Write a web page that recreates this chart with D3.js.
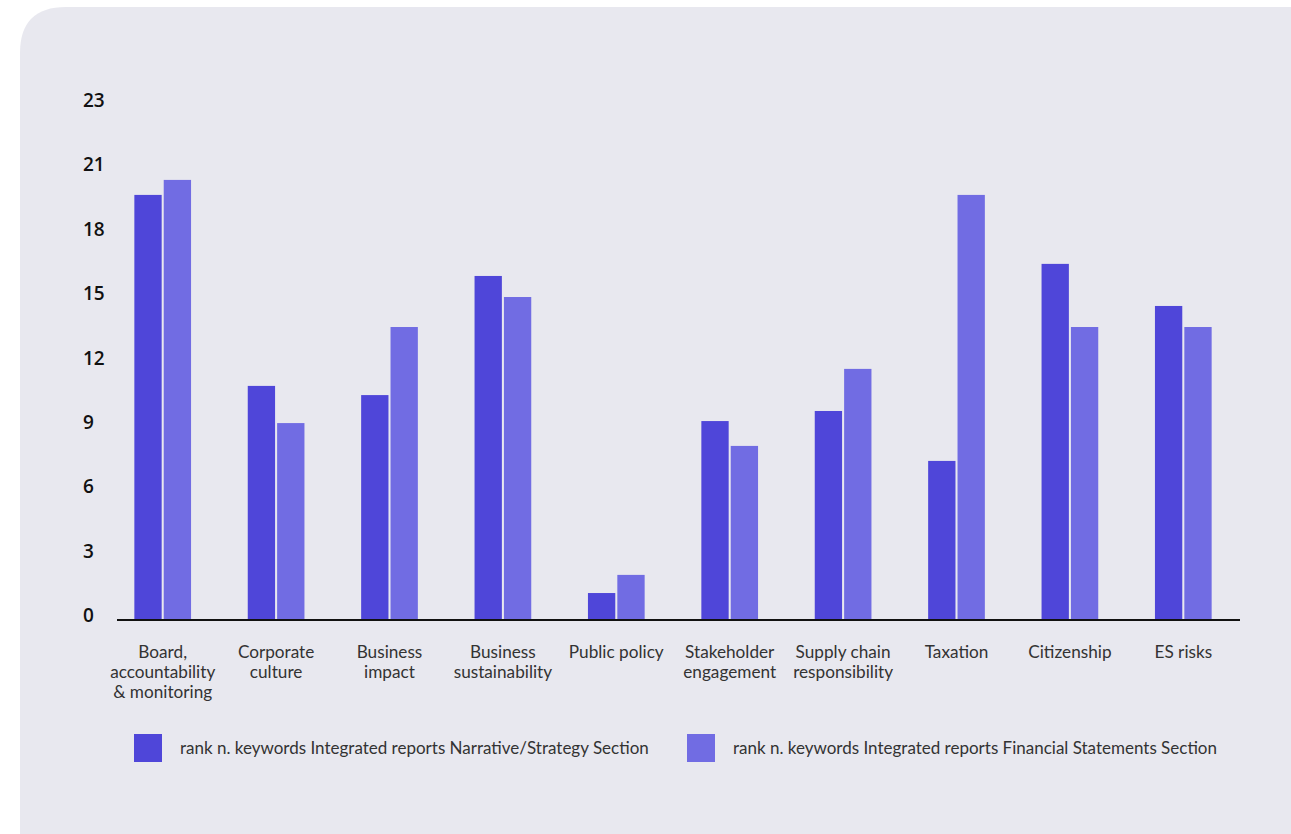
<!DOCTYPE html>
<html>
<head>
<meta charset="utf-8">
<script src="https://cdn.jsdelivr.net/npm/d3@7/dist/d3.min.js"></script>
<style>
  html, body { margin: 0; padding: 0; background: #ffffff; }
  svg { display: block; }
</style>
</head>
<body>
<svg id="chart" width="1291" height="834"></svg>
<script>
const categories = [
  ["Board,", "accountability", "& monitoring"],
  ["Corporate", "culture"],
  ["Business", "impact"],
  ["Business", "sustainability"],
  ["Public policy"],
  ["Stakeholder", "engagement"],
  ["Supply chain", "responsibility"],
  ["Taxation"],
  ["Citizenship"],
  ["ES risks"]
];
const seriesNames = [
  "rank n. keywords Integrated reports Narrative/Strategy Section",
  "rank n. keywords Integrated reports Financial Statements Section"
];
const narrative = [18.94, 10.41, 10.0, 15.32, 1.16, 8.84, 9.29, 7.06, 15.86, 13.98];
const financial = [19.61, 8.75, 13.04, 14.38, 1.97, 7.73, 11.17, 18.94, 13.04, 13.04];
const yTickLabels = ["0", "3", "6", "9", "12", "15", "18", "21", "23"];
const yMax = 23;

const colors = ["#4f46d9", "#716ce3"];

const svg = d3.select("#chart");

// panel background
svg.append("path")
  .attr("d", (() => {
    const x0 = 20, y0 = 7, x1 = 1291, y1 = 834, r = 46;
    return `M${x0},${y1} L${x0},${y0 + r} Q${x0},${y0} ${x0 + r},${y0} L${x1},${y0} L${x1},${y1} Z`;
  })())
  .attr("fill", "#e8e8ef");

const keys = categories.map((c, i) => i);
const x = d3.scaleBand().domain(keys).range([106, 1240]).paddingInner(0.5).paddingOuter(0.25);
const xs = d3.scaleBand().domain([0, 1]).range([0, x.bandwidth()]).paddingInner(0.07);
const y = d3.scaleLinear().domain([0, yMax]).range([619, 104]);

const data = keys.map(i => [narrative[i], financial[i]]);

const g = svg.append("g");
const groups = g.selectAll("g.grp").data(data).join("g")
  .attr("class", "grp")
  .attr("transform", (d, i) => `translate(${x(i)},0)`);
groups.selectAll("rect").data(d => d).join("rect")
  .attr("x", (d, j) => xs(j))
  .attr("width", xs.bandwidth())
  .attr("y", d => y(d))
  .attr("height", d => y(0) - y(d) + 1)
  .attr("fill", (d, j) => colors[j]);

// y axis labels
const tickVals = yTickLabels.map((t, i) => yMax * i / (yTickLabels.length - 1));
const yAxis = d3.axisLeft(y).tickValues(tickVals).tickFormat((d, i) => yTickLabels[i]).tickSize(0);
const ya = svg.append("g").attr("transform", "translate(83,0)").call(yAxis);
ya.select(".domain").remove();
ya.selectAll("text")
  .attr("x", 0)
  .attr("text-anchor", "start")
  .attr("transform", "translate(0,-3.5)")
  .style("font-family", "'Open Sans', 'Noto Sans', sans-serif")
  .style("font-weight", 600)
  .style("font-size", "19px")
  .style("fill", "#111");

// baseline axis
svg.append("line")
  .attr("x1", 117).attr("x2", 1240)
  .attr("y1", y(0) + 1).attr("y2", y(0) + 1)
  .attr("stroke", "#111").attr("stroke-width", 2);

// category labels
const labelFont = "Lato, 'Open Sans', sans-serif";
const cl = svg.append("g");
categories.forEach((lines, i) => {
  const t = cl.append("text")
    .attr("text-anchor", "middle")
    .attr("font-family", labelFont)
    .attr("font-size", "17.2px")
    .attr("fill", "#333");
  lines.forEach((ln, k) => {
    t.append("tspan")
      .attr("x", x(i) + x.bandwidth() / 2)
      .attr("y", 658 + k * 20)
      .text(ln);
  });
});

// legend
const legendX = [134, 687];
const lg = svg.append("g");
seriesNames.forEach((name, j) => {
  lg.append("rect")
    .attr("x", legendX[j]).attr("y", 734)
    .attr("width", 28).attr("height", 28)
    .attr("fill", colors[j]);
  lg.append("text")
    .attr("x", legendX[j] + 46).attr("y", 754)
    .attr("font-family", labelFont)
    .attr("font-size", "17px")
    .attr("fill", "#333")
    .text(name);
});
</script>
</body>
</html>
